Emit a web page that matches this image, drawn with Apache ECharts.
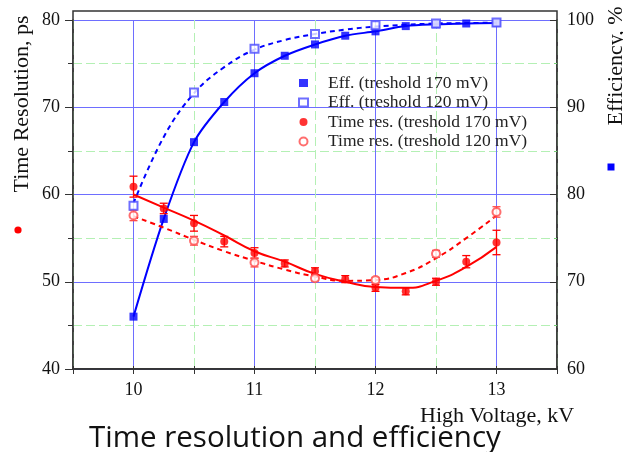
<!DOCTYPE html>
<html><head><meta charset="utf-8">
<script src="https://cdn.jsdelivr.net/npm/echarts@6/dist/echarts.min.js"></script>
<style>html,body{margin:0;padding:0;background:#fff}#c{width:623px;height:452px}</style>
</head><body><div id="c"></div>
<script>
// ---- data ----
const voltage = [10, 10.25, 10.5, 10.75, 11, 11.25, 11.5, 11.75, 12, 12.25, 12.5, 12.75, 13];
const voltageHalf = [10, 10.5, 11, 11.5, 12, 12.5, 13];
const eff170 = [66.0, 77.2, 86.0, 90.6, 93.9, 95.9, 97.2, 98.2, 98.7, 99.3, 99.5, 99.6, 99.65];
const eff120 = [78.7, 91.7, 96.7, 98.4, 99.4, 99.6, 99.7];
const fitEff120 = [79.0, 86.6, 91.6, 94.6, 96.6, 97.7, 98.4, 98.9, 99.25, 99.45, 99.6, 99.65, 99.7];
const tres170 = [60.9, 58.4, 56.7, 54.6, 53.3, 52.1, 51.2, 50.3, 49.3, 48.9, 50.0, 52.3, 54.5];
const tres170Err = [1.2, 0.6, 0.9, 0.6, 0.6, 0.4, 0.4, 0.4, 0.4, 0.4, 0.4, 0.7, 1.4];
const tres120 = [57.6, 54.7, 52.2, 50.4, 50.2, 53.2, 58.0];
const tres120Err = [0.6, 0.5, 0.5, 0.3, 0.3, 0.4, 0.6];
const fitTres170 = [60.0, 58.5, 57.0, 55.3, 53.5, 52.3, 50.9, 50.0, 49.4, 49.3, 50.1, 51.7, 54.0];
const fitTres120 = [57.5, 56.2, 54.8, 53.5, 52.4, 51.4, 50.6, 50.1, 50.2, 51.0, 52.7, 55.0, 57.6];
const seriesNames = ['Eff. (treshold 170 mV)', 'Eff. (treshold 120 mV)', 'Time res. (treshold 170 mV)', 'Time res. (treshold 120 mV)'];
const chartTitle = 'Time resolution and efficiency';
const xTitle = 'High Voltage, kV';
const yLeftTitle = 'Time Resolution, ps';
const yRightTitle = 'Efficiency, %';

// ---- build ----
const pairs = (xs, ys) => xs.map((x, i) => [x, ys[i]]);
const errData = (xs, ys, es) => xs.map((x, i) => [x, ys[i] - es[i], ys[i] + es[i]]);
const SERIF = 'Liberation Serif';
const AX = '#333';
const BLUE_GRID = '#6e6eff';
const GREEN_GRID = '#b4f0b4';
const clear = 'rgba(0,0,0,0)';

function errRender(color) {
  return function (params, api) {
    const x = api.value(0);
    const top = api.coord([x, api.value(2)]);
    const bot = api.coord([x, api.value(1)]);
    const w = 4;
    const st = { stroke: color, lineWidth: 1.3 };
    return { type: 'group', children: [
      { type: 'line', shape: { x1: top[0], y1: top[1], x2: bot[0], y2: bot[1] }, style: st },
      { type: 'line', shape: { x1: top[0] - w, y1: top[1], x2: top[0] + w, y2: top[1] }, style: st },
      { type: 'line', shape: { x1: bot[0] - w, y1: bot[1], x2: bot[0] + w, y2: bot[1] }, style: st }
    ]};
  };
}

const chart = echarts.init(document.getElementById('c'), null, { renderer: 'canvas' });
chart.setOption({
  animation: false,
  backgroundColor: '#fff',
  title: { text: chartTitle, left: 89, top: 424, padding: 0,
    textStyle: { fontFamily: 'Open Sans', fontSize: 29.5, fontWeight: 'normal', color: '#111' } },
  legend: {
    data: seriesNames, orient: 'vertical', left: 293, top: 69,
    itemWidth: 9, itemHeight: 8, itemGap: 1.5,
    textStyle: { fontFamily: SERIF, fontSize: 17.5, color: '#222', lineHeight: 17, padding: [0, 0, 0, 15] }
  },
  grid: [
    { left: 73, right: 66, top: 20, bottom: 83 },
    { left: 73, right: 66, top: 11, bottom: 83, show: true, borderColor: AX, borderWidth: 1.5 }
  ],
  xAxis: [
    { gridIndex: 0, type: 'value', min: 9.5, max: 13.5, interval: 0.5, position: 'bottom',
      axisLine: { lineStyle: { color: AX, width: 1.5 } },
      axisTick: { length: 5, lineStyle: { color: AX } },
      axisLabel: { fontFamily: SERIF, fontSize: 18, color: '#111', margin: 12,
        formatter: v => (Math.abs(v - Math.round(v)) < 1e-6 ? String(Math.round(v)) : '') },
      splitLine: { show: true, lineStyle: { color: [clear, BLUE_GRID], width: 1 } } },
    { gridIndex: 0, type: 'value', min: 9.5, max: 13.5, interval: 0.5, position: 'bottom',
      axisLine: { show: false }, axisTick: { show: false }, axisLabel: { show: false },
      splitLine: { show: true, lineStyle: { color: [GREEN_GRID, clear], width: 1, type: [9, 4] } } },
    { gridIndex: 1, type: 'value', min: 9.5, max: 13.5, interval: 0.5, position: 'top',
      axisLine: { lineStyle: { color: AX, width: 1.5 } },
      axisTick: { length: 3, lineStyle: { color: AX } },
      axisLabel: { show: false }, splitLine: { show: false } }
  ],
  yAxis: [
    { gridIndex: 0, type: 'value', min: 40, max: 80, interval: 10, position: 'left',
      axisLine: { show: true, lineStyle: { color: AX, width: 1.5 } },
      axisTick: { length: 8, lineStyle: { color: AX } },
      minorTick: { show: true, splitNumber: 2, length: 5, lineStyle: { color: AX } },
      axisLabel: { fontFamily: SERIF, fontSize: 18, color: '#111', margin: 13 },
      splitLine: { show: true, lineStyle: { color: BLUE_GRID, width: 1 } },
      minorSplitLine: { show: true, lineStyle: { color: GREEN_GRID, width: 1, type: [9, 4] } } },
    { gridIndex: 0, type: 'value', min: 60, max: 100, interval: 10, position: 'right',
      axisLine: { show: true, lineStyle: { color: AX, width: 1.5 } },
      axisTick: { inside: true, length: 7, lineStyle: { color: AX } },
      minorTick: { show: true, splitNumber: 2, length: 3, lineStyle: { color: '#7c7' } },
      axisLabel: { fontFamily: SERIF, fontSize: 18, color: '#111', margin: 10 },
      splitLine: { show: false } },
    { gridIndex: 1, type: 'value', min: 0, max: 1, show: false }
  ],
  graphic: [
    { type: 'text', x: 22, y: 104, rotation: Math.PI / 2,
      style: { text: yLeftTitle, font: '22px "Liberation Serif"', fill: '#111', align: 'center', verticalAlign: 'middle' } },
    { type: 'circle', shape: { cx: 18, cy: 230, r: 3.6 }, style: { fill: '#ff0000' } },
    { type: 'text', x: 616, y: 66, rotation: Math.PI / 2,
      style: { text: yRightTitle, font: '22px "Liberation Serif"', fill: '#111', align: 'center', verticalAlign: 'middle' } },
    { type: 'rect', shape: { x: 607.5, y: 163.5, width: 7, height: 7 }, style: { fill: '#0000ff' } },
    { type: 'text', x: 420, y: 416,
      style: { text: xTitle, font: '22px "Liberation Serif"', fill: '#111', align: 'left', verticalAlign: 'middle' } }
  ],
  series: [
    { type: 'line', xAxisIndex: 0, yAxisIndex: 1, data: pairs(voltage, eff170), smooth: 0.3, showSymbol: false,
      silent: true, lineStyle: { color: '#0000ff', width: 2 }, z: 2 },
    { type: 'line', xAxisIndex: 0, yAxisIndex: 1, data: pairs(voltage, fitEff120), smooth: 0.4, showSymbol: false,
      silent: true, lineStyle: { color: '#0000ff', width: 2, type: [5, 4] }, z: 2 },
    { type: 'line', xAxisIndex: 0, yAxisIndex: 0, data: pairs(voltage, fitTres170), smooth: 0.5, showSymbol: false,
      silent: true, lineStyle: { color: '#ff0000', width: 2 }, z: 2 },
    { type: 'line', xAxisIndex: 0, yAxisIndex: 0, data: pairs(voltage, fitTres120), smooth: 0.5, showSymbol: false,
      silent: true, lineStyle: { color: '#ff0000', width: 2, type: [5, 4] }, z: 2 },
    { type: 'custom', xAxisIndex: 0, yAxisIndex: 0, data: errData(voltage, tres170, tres170Err),
      encode: { x: 0, y: [1, 2] }, renderItem: errRender('#ff0000'), z: 3, silent: true },
    { type: 'custom', xAxisIndex: 0, yAxisIndex: 0, data: errData(voltageHalf, tres120, tres120Err),
      encode: { x: 0, y: [1, 2] }, renderItem: errRender('#ff4a4a'), z: 3, silent: true },
    { name: seriesNames[0], type: 'scatter', xAxisIndex: 0, yAxisIndex: 1, data: pairs(voltage, eff170),
      symbol: 'rect', symbolSize: 8, itemStyle: { color: '#0000ff' }, z: 5 },
    { name: seriesNames[1], type: 'scatter', xAxisIndex: 0, yAxisIndex: 1, data: pairs(voltageHalf, eff120),
      symbol: 'emptyRect', symbolSize: 8, itemStyle: { color: '#4a4aff', borderWidth: 1.2 }, z: 5 },
    { name: seriesNames[2], type: 'scatter', xAxisIndex: 0, yAxisIndex: 0, data: pairs(voltage, tres170),
      symbol: 'circle', symbolSize: 8, itemStyle: { color: '#ff0000' }, z: 5 },
    { name: seriesNames[3], type: 'scatter', xAxisIndex: 0, yAxisIndex: 0, data: pairs(voltageHalf, tres120),
      symbol: 'emptyCircle', symbolSize: 8, itemStyle: { color: '#ff4a4a', borderWidth: 1.2 }, z: 5 }
  ]
});
</script>
</body></html>
